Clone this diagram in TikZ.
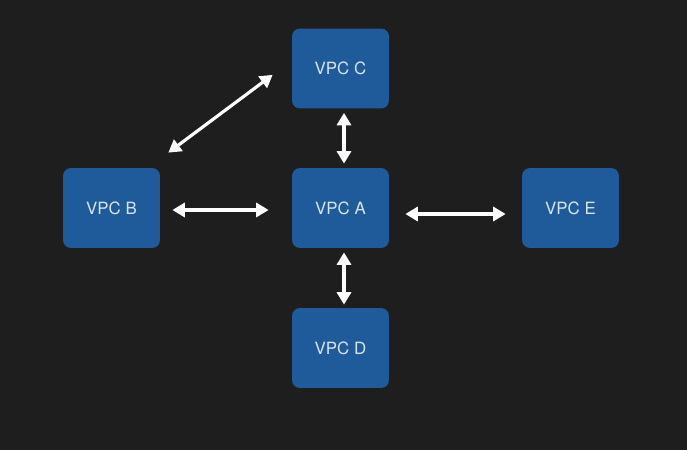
\documentclass[tikz,border=0pt]{standalone}
\usepackage{fontspec}
\setsansfont{TeX Gyre Heros}
\usetikzlibrary{arrows.meta,positioning,calc}
\definecolor{darkbg}{RGB}{30,30,30}
\definecolor{vpcblue}{RGB}{31,91,154}
\definecolor{vpctext}{RGB}{218,228,238}

\begin{document}
\begin{tikzpicture}[x=0.02cm, y=-0.02cm,
    box/.style={rounded corners=0.16cm, fill=vpcblue, minimum width=1.94cm, minimum height=1.6cm, align=center, text=vpctext, font=\sffamily\fontsize{9.6}{11}\selectfont},
    link/.style={{Triangle[length=0.25cm,width=0.28cm]}-{Triangle[length=0.25cm,width=0.28cm]}, line width=1.8pt, white}]

  \fill[darkbg] (0,0) rectangle (687,450);

  \node[box] (vpcA) at (340.5,208) {VPC A};
  \node[box] (vpcB) at (111.5,208) {VPC B};
  \node[box] (vpcC) at (340.5,68.5) {VPC C};
  \node[box] (vpcD) at (340.5,348) {VPC D};
  \node[box] (vpcE) at (570.5,208) {VPC E};

  \draw[link] ($(vpcB.east)+(12,2)$) -- ($(vpcA.west)+(-23,2)$);
  \draw[link] ($(vpcA.east)+(16,6)$) -- ($(vpcE.west)+(-16,6)$);
  \draw[link] ($(vpcC.south)+(3.5,4)$) -- ($(vpcA.north)+(3.5,-4)$);
  \draw[link] ($(vpcA.south)+(3.5,4)$) -- ($(vpcD.north)+(3.5,-3)$);
  \draw[link] ($(vpcB.north east)+(8,-15)$) -- ($(vpcC.south west)+(-19,-34)$);
\end{tikzpicture}
\end{document}
